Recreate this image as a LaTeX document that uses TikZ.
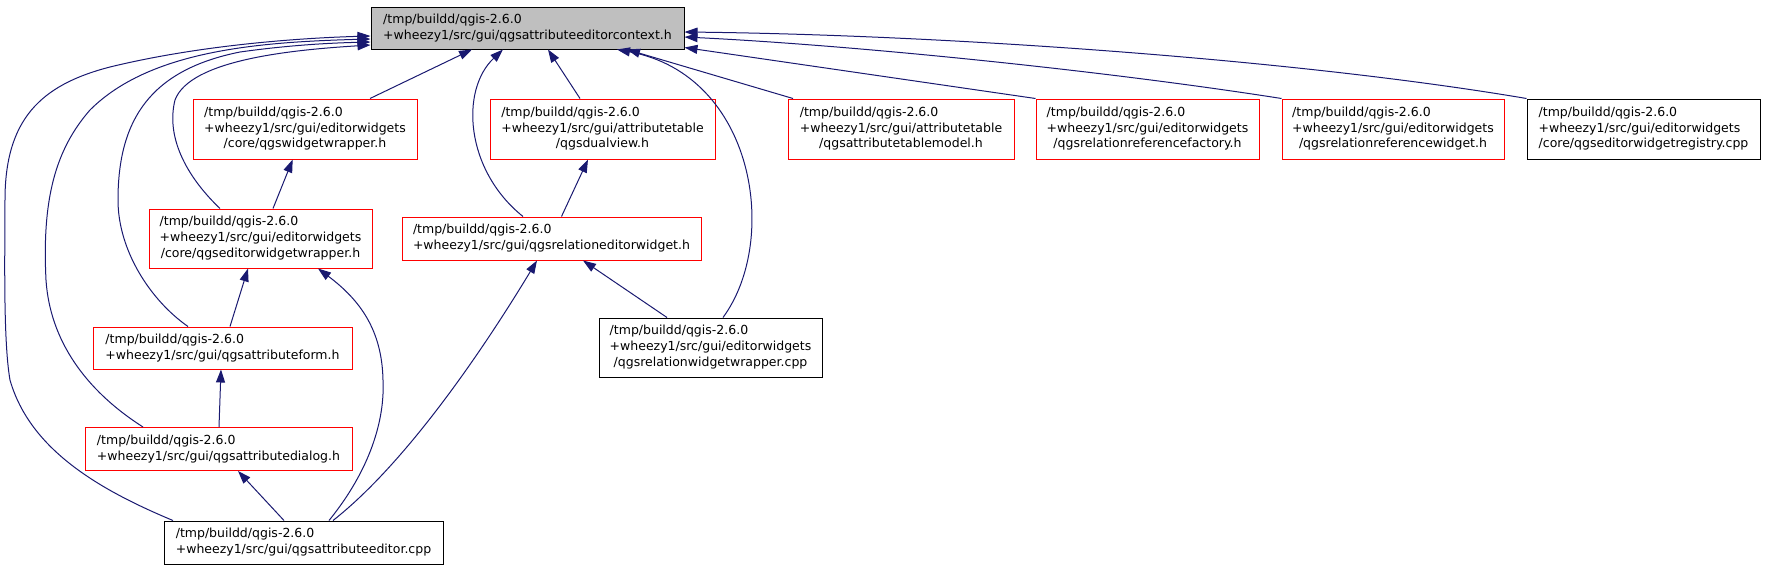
\documentclass[tikz,border=0pt]{standalone}
\usepackage{fontspec}
\setmainfont{DejaVu Sans}
\usepackage{tikz}
\usetikzlibrary{arrows.meta}
\definecolor{edgeblue}{HTML}{191970}
\definecolor{curgray}{HTML}{BFBFBF}
% file label: first lines flush left, last line centred
\newcommand{\twol}[2]{\begin{tabular}{@{}l@{}}#1\\\multicolumn{1}{@{}c@{}}{#2}\end{tabular}}
\newcommand{\threel}[3]{\begin{tabular}{@{}l@{}}#1\\#2\\\multicolumn{1}{@{}c@{}}{#3}\end{tabular}}

\begin{document}
\begin{tikzpicture}[x=1pt, y=-1pt,
    file/.style={draw=red, line width=1pt, fill=white, inner sep=0pt, font=\fontsize{12.5}{15.8}\selectfont},
    srcfile/.style={file, draw=black},
    cur/.style={file, draw=black, fill=curgray},
    dep/.style={-{Triangle[length=13pt, width=9pt]}, line width=1pt, edgeblue}
]
\useasboundingbox (0,0) rectangle (1765,571);

\node[cur, minimum width=313pt, minimum height=42pt] (ctx) at (527.5,28) {\twol{/tmp/buildd/qgis-2.6.0}{+wheezy1/src/gui/qgsattributeeditorcontext.h}};

\node[file, minimum width=224pt, minimum height=60pt] (wwrap) at (305,129) {\threel{/tmp/buildd/qgis-2.6.0}{+wheezy1/src/gui/editorwidgets}{/core/qgswidgetwrapper.h}};
\node[file, minimum width=225pt, minimum height=60pt] (dual) at (602.5,129) {\threel{/tmp/buildd/qgis-2.6.0}{+wheezy1/src/gui/attributetable}{/qgsdualview.h}};
\node[file, minimum width=226pt, minimum height=60pt] (tmodel) at (901,129) {\threel{/tmp/buildd/qgis-2.6.0}{+wheezy1/src/gui/attributetable}{/qgsattributetablemodel.h}};
\node[file, minimum width=223pt, minimum height=60pt] (rfact) at (1147.5,129) {\threel{/tmp/buildd/qgis-2.6.0}{+wheezy1/src/gui/editorwidgets}{/qgsrelationreferencefactory.h}};
\node[file, minimum width=222pt, minimum height=60pt] (rwidget) at (1393,129) {\threel{/tmp/buildd/qgis-2.6.0}{+wheezy1/src/gui/editorwidgets}{/qgsrelationreferencewidget.h}};
\node[srcfile, minimum width=233pt, minimum height=60pt] (registry) at (1643.5,129) {\threel{/tmp/buildd/qgis-2.6.0}{+wheezy1/src/gui/editorwidgets}{/core/qgseditorwidgetregistry.cpp}};

\node[file, minimum width=223pt, minimum height=59pt] (ewrap) at (260.5,238.5) {\threel{/tmp/buildd/qgis-2.6.0}{+wheezy1/src/gui/editorwidgets}{/core/qgseditorwidgetwrapper.h}};
\node[file, minimum width=299pt, minimum height=43pt] (relwid) at (551.5,238.5) {\twol{/tmp/buildd/qgis-2.6.0}{+wheezy1/src/gui/qgsrelationeditorwidget.h}};
\node[srcfile, minimum width=223pt, minimum height=59pt] (relwrap) at (710.5,347.5) {\threel{/tmp/buildd/qgis-2.6.0}{+wheezy1/src/gui/editorwidgets}{/qgsrelationwidgetwrapper.cpp}};

\node[file, minimum width=259pt, minimum height=42pt] (aform) at (222.5,348) {\twol{/tmp/buildd/qgis-2.6.0}{+wheezy1/src/gui/qgsattributeform.h}};
\node[file, minimum width=267pt, minimum height=43pt] (adlg) at (218.5,449) {\twol{/tmp/buildd/qgis-2.6.0}{+wheezy1/src/gui/qgsattributedialog.h}};
\node[srcfile, minimum width=279pt, minimum height=43pt] (aed) at (303.5,542.5) {\twol{/tmp/buildd/qgis-2.6.0}{+wheezy1/src/gui/qgsattributeeditor.cpp}};

% includes of the context header
\draw[dep] ([xshift=65pt]wwrap.north) -- ([xshift=-55.5pt]ctx.south);
\draw[dep] ([xshift=-22.5pt]dual.north) -- ([xshift=20.5pt]ctx.south);
\draw[dep] ([xshift=-108pt]tmodel.north) -- ([xshift=99.5pt]ctx.south);
\draw[dep] ([xshift=-28.5pt]relwid.north) .. controls (465,170) and (460,90) .. ([xshift=-24.5pt]ctx.south);
\draw[dep] ([xshift=12.5pt]relwrap.north) .. controls (780,240) and (755,75) .. ([xshift=89.5pt]ctx.south);
\draw[dep] (rfact.north west) -- ([yshift=-19.5pt]ctx.east);
\draw[dep] (rwidget.north west) .. controls (1100,70) and (850,45) .. ([yshift=-9pt]ctx.east);
\draw[dep] (registry.north west) .. controls (1300,60) and (950,35) .. ([yshift=-4pt]ctx.east);
\draw[dep] ([xshift=-40.5pt]ewrap.north) .. controls (190,180) and (165,140) .. (175,100)
    .. controls (190,60) and (290,50) .. ([yshift=-17pt]ctx.west);
\draw[dep] ([xshift=-34.5pt]aform.north) .. controls (150,300) and (118,250) .. (118,200)
    .. controls (118,120) and (150,70) .. (240,52) .. controls (290,45) and (330,43) .. ([yshift=-14pt]ctx.west);
\draw[dep] ([xshift=-75.5pt]adlg.north) .. controls (85,390) and (50,340) .. (46,280)
    .. controls (42,200) and (55,150) .. (90,110) .. controls (150,50) and (260,42) .. ([yshift=-11pt]ctx.west);
\draw[dep] ([xshift=-130.5pt]aed.north) .. controls (100,490) and (30,450) .. (10,380)
    .. controls (3,340) and (5,250) .. (5,200) .. controls (5,120) and (40,85) .. (110,67)
    .. controls (200,45) and (300,38) .. ([yshift=-8pt]ctx.west);

% the rest
\draw[dep] ([xshift=12.5pt]ewrap.north) -- ([xshift=-12.3pt]wwrap.south);
\draw[dep] ([xshift=10pt]relwid.north) -- ([xshift=-14.5pt]dual.south);
\draw[dep] ([xshift=7.5pt]aform.north) -- ([xshift=-12.5pt]ewrap.south);
\draw[dep] ([xshift=25.5pt]aed.north) .. controls (370,470) and (385,420) .. (383,380)
    .. controls (382,330) and (360,300) .. ([xshift=57.5pt]ewrap.south);
\draw[dep] ([xshift=0.5pt]adlg.north) -- ([xshift=-1.5pt]aform.south);
\draw[dep] ([xshift=-19.5pt]aed.north) -- ([xshift=19.5pt]adlg.south);
\draw[dep] ([xshift=29.5pt]aed.north) .. controls (410,460) and (489,340) .. ([xshift=-14.5pt]relwid.south);
\draw[dep] ([xshift=-43.5pt]relwrap.north) -- ([xshift=31.5pt]relwid.south);
\end{tikzpicture}
\end{document}
